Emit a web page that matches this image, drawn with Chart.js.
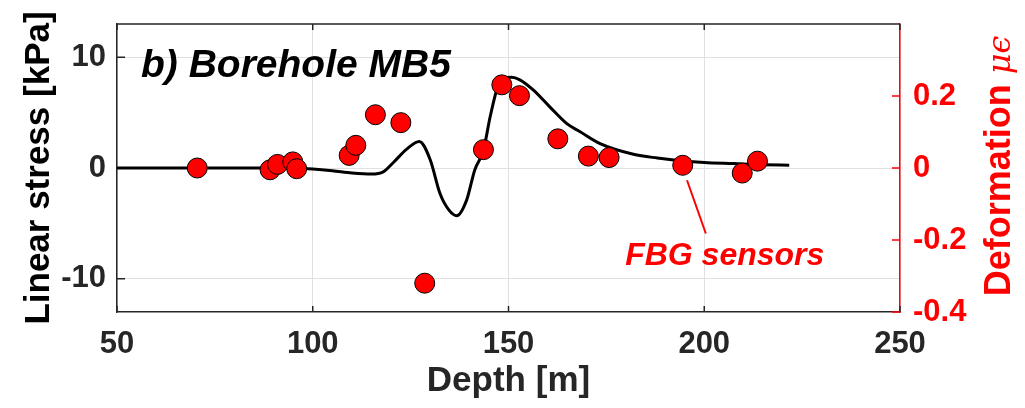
<!DOCTYPE html>
<html>
<head>
<meta charset="utf-8">
<script src="https://cdn.jsdelivr.net/npm/chart.js@4.4.1/dist/chart.umd.min.js"></script>
<style>
  html, body { margin: 0; padding: 0; background: #fff; }
  canvas { display: block; }
</style>
</head>
<body>
<canvas id="boreholeChart" width="1025" height="408"></canvas>
<script>
// FBG sensor readings, right axis (deformation)
const sensorDepth = [70.5, 89.1, 91.0, 94.9, 95.9, 109.3, 111.0, 116.0, 122.5, 128.6, 143.6, 148.3, 152.8, 162.6, 170.4, 175.7, 194.5, 209.7, 213.6];
const sensorDeformation = [0, -0.005, 0.01, 0.017, -0.002, 0.035, 0.063, 0.148, 0.126, -0.32, 0.051, 0.231, 0.201, 0.081, 0.033, 0.029, 0.0075, -0.014, 0.019];

// modelled linear stress, left axis (kPa)
const curveDepth = [50, 60, 70, 80, 90, 95, 100, 105, 110, 115, 118, 120.6, 124, 127.2, 130, 132.5, 134.8, 136.8, 139.3, 141.4, 143.6, 145.3, 147, 148.7, 150.8, 152.9, 156.3, 160.6, 164.9, 168.3, 173.4, 181.9, 188, 194.5, 200, 207.4, 215, 221.7];
const curveStress = [0, 0, 0, 0, 0, -0.02, -0.1, -0.25, -0.45, -0.55, -0.35, 0.5, 1.7, 2.4, 0.75, -2.3, -3.8, -4.3, -2.9, -0.15, 1.6, 4.6, 7.05, 8.1, 8.2, 7.96, 7.05, 5.5, 4.0, 3.27, 2.2, 1.24, 0.9, 0.64, 0.5, 0.4, 0.3, 0.25];

const depthTicks = [50, 100, 150, 200, 250];
const stressTicks = [-10, 0, 10];
const deformationTicks = [-0.4, -0.2, 0, 0.2];

const RED = '#ff0000';
const AXIS = '#262626';
const GRID = '#e0e0e0';
const FONT = '"Liberation Sans", Arial, sans-serif';

const fixTicks = (values) => (scale) => {
    scale.ticks = values.map(v => ({ value: v }));
};

// keep the plot box where the figure has it
const fitSide = (width) => (s) => {
    s.width = width;
    s.paddingTop = 0;
    s.paddingBottom = 0;
};

// MATLAB style ticks pointing into the box + top border
const boxTicks = {
    id: 'boxTicks',
    beforeDatasetsDraw(chart) {
        const { ctx, chartArea: a, scales } = chart;
        ctx.save();
        ctx.lineWidth = 1.5;
        ctx.strokeStyle = AXIS;
        ctx.beginPath();
        ctx.moveTo(a.left, a.top);
        ctx.lineTo(a.right, a.top);
        depthTicks.forEach(v => {
            const px = scales.x.getPixelForValue(v);
            ctx.moveTo(px, a.bottom); ctx.lineTo(px, a.bottom - 6);
            ctx.moveTo(px, a.top); ctx.lineTo(px, a.top + 6);
        });
        stressTicks.forEach(v => {
            const py = scales.y.getPixelForValue(v);
            ctx.moveTo(a.left, py); ctx.lineTo(a.left + 8, py);
        });
        ctx.stroke();
        ctx.strokeStyle = RED;
        ctx.beginPath();
        deformationTicks.forEach(v => {
            const py = scales.y1.getPixelForValue(v);
            ctx.moveTo(a.right, py); ctx.lineTo(a.right - 8, py);
        });
        ctx.stroke();
        ctx.restore();
    }
};

const labels = {
    id: 'labels',
    afterDraw(chart) {
        const { ctx, chartArea: a, scales } = chart;
        const x = scales.x, y1 = scales.y1;
        ctx.save();

        ctx.fillStyle = '#000';
        ctx.textBaseline = 'alphabetic';
        ctx.textAlign = 'left';
        ctx.font = 'italic bold 39px ' + FONT;
        ctx.fillText('b) Borehole MB5', a.left + 24, a.top + 53);

        // callout to a sensor
        ctx.strokeStyle = RED;
        ctx.lineWidth = 2;
        ctx.beginPath();
        ctx.moveTo(x.getPixelForValue(195.6), y1.getPixelForValue(-0.034));
        ctx.lineTo(x.getPixelForValue(200.4), y1.getPixelForValue(-0.182));
        ctx.stroke();
        ctx.fillStyle = RED;
        ctx.font = 'italic bold 32px ' + FONT;
        ctx.fillText('FBG sensors', x.getPixelForValue(179.8), y1.getPixelForValue(-0.27));

        // right axis title, mixed fonts
        const word = 'Deformation ';
        const sym = 'μϵ';
        const wordFont = 'bold 36px ' + FONT;
        const symFont = 'italic 32px "DejaVu Serif", serif';
        ctx.font = wordFont;
        const w1 = ctx.measureText(word).width;
        ctx.font = symFont;
        const w2 = ctx.measureText(sym).width;
        ctx.translate(1010, 166);
        ctx.rotate(-Math.PI / 2);
        const start = -(w1 + w2) / 2;
        ctx.font = wordFont;
        ctx.fillText(word, start, 0);
        ctx.font = symFont;
        ctx.fillText(sym, start + w1, 0);
        ctx.restore();
    }
};

const sensorPoints = sensorDepth.map((d, i) => ({ x: d, y: sensorDeformation[i] }));
const stressLine = curveDepth.map((d, i) => ({ x: d, y: curveStress[i] }));

new Chart(document.getElementById('boreholeChart'), {
    type: 'scatter',
    data: {
        datasets: [{
            label: 'FBG sensors',
            data: sensorPoints,
            yAxisID: 'y1',
            pointRadius: 10,
            pointBackgroundColor: RED,
            pointBorderColor: '#000',
            pointBorderWidth: 1
        }, {
            type: 'line',
            label: 'Linear stress',
            data: stressLine,
            yAxisID: 'y',
            borderColor: '#000',
            borderWidth: 3,
            pointRadius: 0,
            cubicInterpolationMode: 'monotone',
            fill: false
        }]
    },
    options: {
        responsive: false,
        animation: false,
        devicePixelRatio: 1,
        layout: { padding: { top: 24, right: 0, left: 0, bottom: 0 } },
        plugins: {
            legend: { display: false },
            tooltip: { enabled: false }
        },
        scales: {
            x: {
                type: 'linear',
                min: 50,
                max: 250,
                afterBuildTicks: fixTicks(depthTicks),
                afterFit: (s) => { s.height = 96; s.paddingLeft = 0; s.paddingRight = 0; },
                grid: { color: GRID, drawTicks: false },
                border: { color: AXIS, width: 1.5 },
                ticks: {
                    color: AXIS,
                    padding: 14,
                    font: { family: FONT, size: 31, weight: 'bold' }
                },
                title: {
                    display: true,
                    text: 'Depth [m]',
                    color: AXIS,
                    padding: { top: 0, bottom: 6 },
                    font: { family: FONT, size: 35, weight: 'bold' }
                }
            },
            y: {
                position: 'left',
                min: -13,
                max: 13,
                afterBuildTicks: fixTicks(stressTicks),
                afterFit: fitSide(117),
                grid: { color: GRID, drawTicks: false },
                border: { color: AXIS, width: 1.5 },
                ticks: {
                    color: AXIS,
                    padding: 11,
                    font: { family: FONT, size: 31, weight: 'bold' }
                },
                title: {
                    display: true,
                    text: 'Linear stress [kPa]',
                    color: '#000',
                    padding: { top: 18, bottom: 0 },
                    font: { family: FONT, size: 35, weight: 'bold' }
                }
            },
            y1: {
                position: 'right',
                min: -0.4,
                max: 0.4,
                afterBuildTicks: fixTicks(deformationTicks),
                afterFit: fitSide(125),
                grid: { display: false, drawTicks: false },
                border: { color: RED, width: 1.5 },
                ticks: {
                    color: RED,
                    padding: 13,
                    font: { family: FONT, size: 31, weight: 'bold' },
                    callback: (v) => String(Number(v.toFixed(1)))
                }
            }
        }
    },
    plugins: [boxTicks, labels]
});
</script>
</body>
</html>
